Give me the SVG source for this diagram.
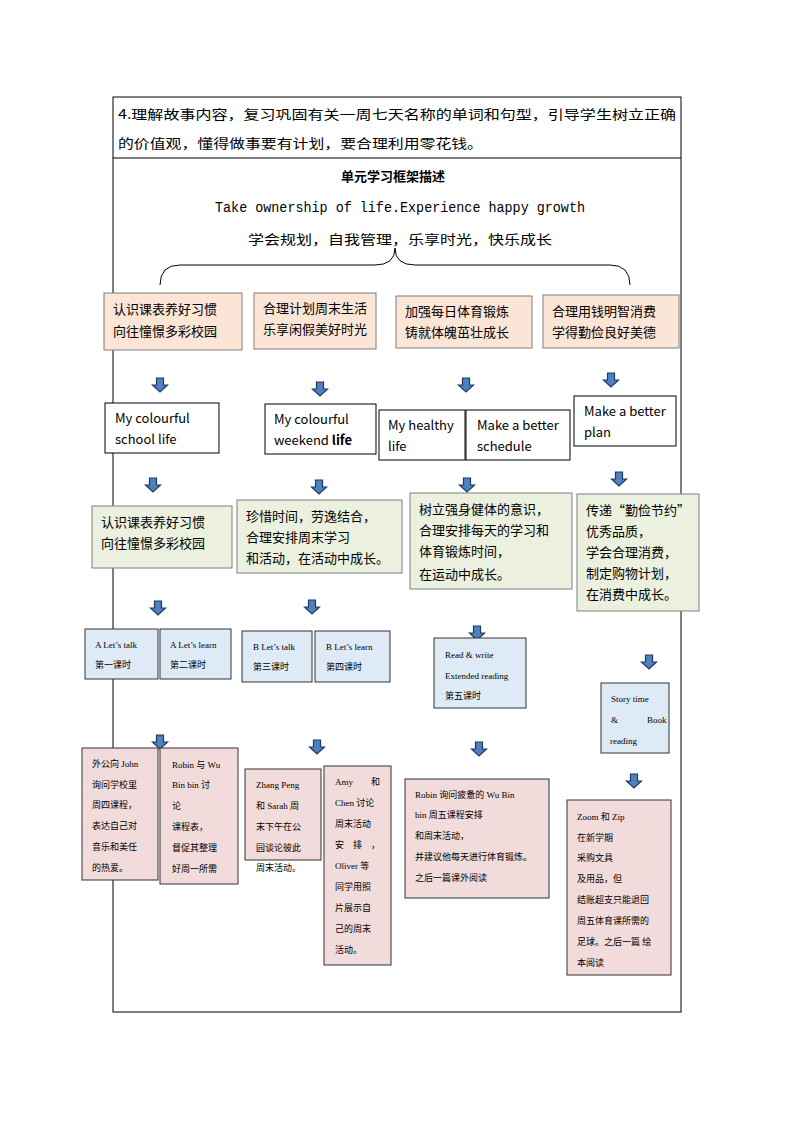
<svg xmlns="http://www.w3.org/2000/svg" width="794" height="1123" viewBox="0 0 794 1123">
<defs>
<style>
.t{font-family:"Noto Sans CJK SC","Liberation Serif",serif;font-size:13px;fill:#000}
.s{font-family:"Liberation Serif","Noto Sans CJK SC",serif;font-size:9px;fill:#000}
.b{stroke:#7f7f7f;stroke-width:1}
.o{fill:#fbe5d6}.w{fill:#fff}.g{fill:#ebf1de}.l{fill:#deebf7;stroke:#333}.p{fill:#f2dcdb;stroke:#333}
</style>
<g id="arr"><path d="M-3.5,0h7v7h4l-7.5,7l-7.5,-7h4z" fill="#4f81bd" stroke="#1f3864" stroke-width="1.2"/></g>
</defs>
<rect width="794" height="1123" fill="#fff"/>
<g id="table" fill="none" stroke="#000">
<rect x="113" y="97" width="568" height="915"/>
<line x1="113" y1="158" x2="681" y2="158"/>
</g>
<text class="t" x="118" y="119" font-size="15" textLength="558" lengthAdjust="spacingAndGlyphs">4.理解故事内容，复习巩固有关一周七天名称的单词和句型，引导学生树立正确</text>
<text class="t" x="118" y="148" font-size="15" textLength="365" lengthAdjust="spacingAndGlyphs">的价值观，懂得做事要有计划，要合理利用零花钱。</text>
<text class="t" x="393" y="181" text-anchor="middle" font-weight="bold" font-size="14">单元学习框架描述</text>
<text x="215" y="212" font-family="Liberation Mono,monospace" font-size="14" textLength="370" lengthAdjust="spacingAndGlyphs">Take ownership of life.Experience happy growth</text>
<text class="t" x="248" y="244" font-size="16" textLength="304" lengthAdjust="spacingAndGlyphs">学会规划，自我管理，乐享时光，快乐成长</text>
<g id="connectors">
<path d="M160,285 Q160,265 180,265 L375,265 Q395,265 395,248 Q395,265 415,265 L610,265 Q630,265 630,285" fill="none" stroke="#000"/>
<use href="#arr" x="160" y="378"/><use href="#arr" x="320" y="382"/><use href="#arr" x="466" y="378"/><use href="#arr" x="611" y="373"/>
<use href="#arr" x="153" y="478"/><use href="#arr" x="319" y="480"/><use href="#arr" x="467" y="478"/><use href="#arr" x="619" y="472"/>
<use href="#arr" x="158" y="601"/><use href="#arr" x="312" y="600"/><use href="#arr" x="477" y="626"/><use href="#arr" x="649" y="655"/>
<use href="#arr" x="160" y="735"/><use href="#arr" x="317" y="740"/><use href="#arr" x="479" y="742"/><use href="#arr" x="634" y="774"/>
</g>
<g id="n1"><rect class="o b" x="104" y="293" width="138" height="57"/><text class="t" x="113" y="314">认识课表养好习惯</text><text class="t" x="113" y="336">向往憧憬多彩校园</text></g>
<g id="n2"><rect class="o b" x="254" y="293" width="122" height="56"/><text class="t" x="263" y="313">合理计划周末生活</text><text class="t" x="263" y="334">乐享闲假美好时光</text></g>
<g id="n3"><rect class="o b" x="396" y="296" width="136" height="52"/><text class="t" x="405" y="316">加强每日体育锻炼</text><text class="t" x="405" y="337">铸就体魄茁壮成长</text></g>
<g id="n4"><rect class="o b" x="543" y="295" width="136" height="53"/><text class="t" x="552" y="316">合理用钱明智消费</text><text class="t" x="552" y="337">学得勤俭良好美德</text></g>
<g id="w1"><rect class="w" x="105" y="403" width="114" height="50" stroke="#000"/><text class="t" x="115" y="423">My colourful</text><text class="t" x="115" y="444">school life</text></g>
<g id="w2"><rect class="w" x="265" y="404" width="111" height="50" stroke="#000"/><text class="t" x="274" y="424">My colourful</text><text class="t" x="274" y="445">weekend <tspan font-weight="bold">life</tspan></text></g>
<g id="w3"><rect class="w" x="379" y="410" width="86" height="50" stroke="#000"/><text class="t" x="388" y="430">My healthy</text><text class="t" x="388" y="451">life</text></g>
<g id="w4"><rect class="w" x="466" y="410" width="104" height="50" stroke="#000"/><text class="t" x="477" y="430">Make a better</text><text class="t" x="477" y="451">schedule</text></g>
<g id="w5"><rect class="w" x="574" y="396" width="102" height="50" stroke="#000"/><text class="t" x="584" y="416">Make a better</text><text class="t" x="584" y="437">plan</text></g>
<g id="g1"><rect class="g b" x="92" y="506" width="140" height="62"/><text class="t" x="101" y="527">认识课表养好习惯</text><text class="t" x="101" y="548">向往憧憬多彩校园</text></g>
<g id="g2"><rect class="g b" x="237" y="500" width="165" height="73"/><text class="t" x="246" y="521">珍惜时间，劳逸结合，</text><text class="t" x="246" y="542">合理安排周末学习</text><text class="t" x="246" y="563">和活动，在活动中成长。</text></g>
<g id="g3"><rect class="g b" x="410" y="493" width="162" height="96"/><text class="t" x="419" y="514">树立强身健体的意识，</text><text class="t" x="419" y="535">合理安排每天的学习和</text><text class="t" x="419" y="556">体育锻炼时间，</text><text class="t" x="419" y="579">在运动中成长。</text></g>
<g id="g4"><rect class="g b" x="577" y="494" width="122" height="117"/><text class="t" x="586" y="515">传递“勤俭节约”</text><text class="t" x="586" y="536">优秀品质，</text><text class="t" x="586" y="557">学会合理消费，</text><text class="t" x="586" y="578">制定购物计划，</text><text class="t" x="586" y="599">在消费中成长。</text></g>
<g id="l1"><rect class="l" x="85" y="629" width="73" height="50"/><text class="s" x="95" y="648">A Let’s talk</text><text class="s" x="95" y="668">第一课时</text></g>
<g id="l2"><rect class="l" x="160" y="629" width="71" height="50"/><text class="s" x="170" y="648">A Let’s learn</text><text class="s" x="170" y="668">第二课时</text></g>
<g id="l3"><rect class="l" x="242" y="631" width="70" height="51"/><text class="s" x="253" y="650">B Let’s talk</text><text class="s" x="253" y="670">第三课时</text></g>
<g id="l4"><rect class="l" x="315" y="631" width="75" height="51"/><text class="s" x="326" y="650">B Let’s learn</text><text class="s" x="326" y="670">第四课时</text></g>
<g id="l5"><rect class="l" x="434" y="638" width="92" height="70"/><text class="s" x="445" y="658">Read &amp; write</text><text class="s" x="445" y="679">Extended reading</text><text class="s" x="445" y="699">第五课时</text></g>
<g id="l6"><rect class="l" x="601" y="683" width="68" height="70"/><text class="s" x="611" y="702">Story time</text><text class="s" x="611" y="723">&amp;</text><text class="s" x="647" y="723">Book</text><text class="s" x="610" y="744">reading</text></g>
<g id="p1"><rect class="p" x="82" y="748" width="76" height="132"/><text class="s" x="92" y="767">外公向 John</text><text class="s" x="92" y="788">询问学校里</text><text class="s" x="92" y="808">周四课程，</text><text class="s" x="92" y="829">表达自己对</text><text class="s" x="92" y="850">音乐和美任</text><text class="s" x="92" y="871">的热爱。</text></g>
<g id="p2"><rect class="p" x="160" y="748" width="78" height="136"/><text class="s" x="172" y="768">Robin 与 Wu</text><text class="s" x="172" y="788">Bin bin 讨</text><text class="s" x="172" y="809">论</text><text class="s" x="172" y="830">课程表，</text><text class="s" x="172" y="851">督促其整理</text><text class="s" x="172" y="872">好周一所需</text></g>
<g id="p3"><rect class="p" x="245" y="769" width="76" height="91"/><text class="s" x="256" y="788">Zhang Peng</text><text class="s" x="256" y="809">和 Sarah 周</text><text class="s" x="256" y="830">末下午在公</text><text class="s" x="256" y="851">园谈论彼此</text><text class="s" x="256" y="871">周末活动。</text></g>
<g id="p4"><rect class="p" x="324" y="766" width="67" height="199"/><text class="s" x="335" y="785">Amy　　和</text><text class="s" x="335" y="806">Chen 讨论</text><text class="s" x="335" y="827">周末活动</text><text class="s" x="335" y="848">安　排　，</text><text class="s" x="335" y="869">Oliver 等</text><text class="s" x="335" y="890">同学用照</text><text class="s" x="335" y="911">片展示自</text><text class="s" x="335" y="932">己的周末</text><text class="s" x="335" y="953">活动。</text></g>
<g id="p5"><rect class="p" x="405" y="779" width="144" height="119"/><text class="s" x="415" y="798">Robin 询问疲惫的 Wu Bin</text><text class="s" x="415" y="818">bin 周五课程安排</text><text class="s" x="415" y="839">和周末活动，</text><text class="s" x="415" y="860">并建议他每天进行体育锻炼。</text><text class="s" x="415" y="881">之后一篇课外阅读</text></g>
<g id="p6"><rect class="p" x="567" y="800" width="104" height="175"/><text class="s" x="577" y="820">Zoom 和 Zip</text><text class="s" x="577" y="841">在新学期</text><text class="s" x="577" y="861">采购文具</text><text class="s" x="577" y="882">及用品，但</text><text class="s" x="577" y="903">结账超支只能退回</text><text class="s" x="577" y="924">周五体育课所需的</text><text class="s" x="577" y="945">足球。之后一篇 绘</text><text class="s" x="577" y="966">本阅读</text></g>
</svg>
